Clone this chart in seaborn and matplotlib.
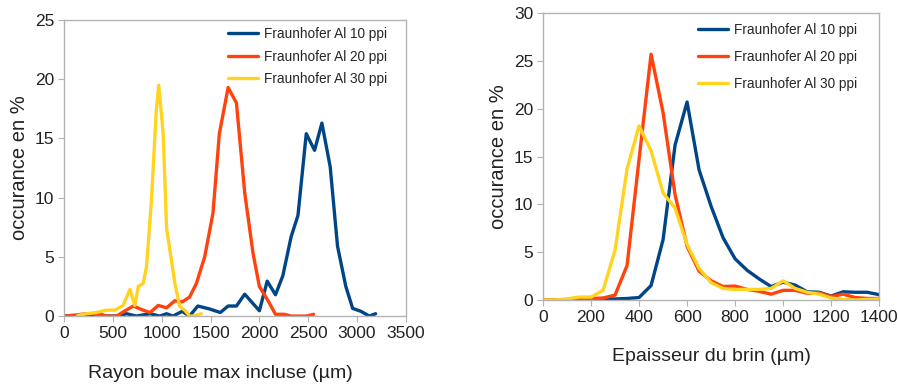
import numpy as np
import pandas as pd
import seaborn as sns
import matplotlib.pyplot as plt

# --- données ---
series_names = ['Fraunhofer Al 10 ppi', 'Fraunhofer Al 20 ppi', 'Fraunhofer Al 30 ppi']
colors = ['#004586', '#ff420e', '#ffd320']

# panneau gauche : rayon boule max incluse
r10_x = [0, 230, 330, 435, 555, 640, 740, 880, 980, 1050, 1115, 1210, 1285, 1370, 1490, 1600,
         1680, 1765, 1850, 2000, 2080, 2165, 2240, 2325, 2395, 2480, 2565, 2640, 2725, 2800,
         2885, 2955, 3040, 3125, 3190]
r10_y = [0, 0, 0.2, 0, 0, 0.2, 0, 0.2, 0, 0.2, 0, 0.4, 0, 0.85, 0.6, 0.3,
         0.85, 0.85, 1.85, 0.45, 2.95, 1.8, 3.4, 6.7, 8.5, 15.4, 14.0, 16.3, 12.6, 5.9,
         2.5, 0.65, 0.4, 0, 0.2]
r20_x = [0, 130, 230, 330, 435, 540, 605, 710, 795, 880, 965, 1050, 1135, 1210, 1285, 1355,
         1440, 1525, 1590, 1680, 1765, 1850, 1935, 2000, 2085, 2165, 2255, 2325, 2410, 2480, 2555]
r20_y = [0, 0.1, 0.2, 0.2, 0, 0, 0.35, 0.85, 0.55, 0.3, 0.9, 0.7, 1.3, 1.2, 1.6, 2.75,
         5.0, 8.7, 15.4, 19.3, 18.0, 10.4, 5.3, 2.5, 1.35, 0.15, 0.15, 0, 0, 0, 0.15]
r30_x = [140, 230, 330, 435, 520, 605, 675, 725, 760, 810, 845, 895, 945, 970, 1015, 1050,
         1100, 1135, 1185, 1235, 1285, 1320, 1405]
r30_y = [0.05, 0.2, 0.3, 0.5, 0.5, 0.9, 2.25, 0.9, 2.5, 2.75, 4.2, 9.8, 17.4, 19.5, 15.4, 7.4,
         4.7, 2.75, 0.8, 0.5, 0, 0, 0.2]

# panneau droit : épaisseur du brin
e_x = list(range(0, 1401, 50))
e10_y = [0, 0, 0, 0, 0.1, 0.1, 0.1, 0.15, 0.25, 1.5, 6.3, 16.2, 20.7, 13.6, 9.8, 6.5,
         4.3, 3.1, 2.2, 1.4, 1.85, 1.55, 0.85, 0.8, 0.4, 0.85, 0.8, 0.8, 0.55]
e20_y = [0, 0, 0.05, 0.1, 0.15, 0.2, 0.5, 3.6, 14.7, 25.7, 19.6, 11.0, 5.6, 3.0, 2.0, 1.4,
         1.45, 1.1, 0.9, 0.6, 1.0, 1.0, 0.7, 0.75, 0.35, 0.6, 0.25, 0.15, 0.15]
e30_y = [0, 0, 0.1, 0.3, 0.3, 1.0, 5.2, 13.7, 18.2, 15.6, 11.2, 9.6, 5.8, 3.3, 1.8, 1.2,
         1.1, 1.1, 1.1, 1.2, 2.0, 1.2, 0.8, 0.6, 0.2, 0.05, 0.0, 0.05, 0.1]


def long_df(xs, ys):
    frames = []
    for name, x, y in zip(series_names, xs, ys):
        frames.append(pd.DataFrame({'x': x, 'y': y, 'serie': name}))
    return pd.concat(frames, ignore_index=True)


df_left = long_df([r10_x, r20_x, r30_x], [r10_y, r20_y, r30_y])
df_right = long_df([e_x, e_x, e_x], [e10_y, e20_y, e30_y])

sns.set_style('white')
plt.rcParams['font.family'] = ['Liberation Sans', 'DejaVu Sans']

fig = plt.figure(figsize=(8.98, 3.85), dpi=100)
ax1 = fig.add_axes([0.0713, 0.179, 0.3807, 0.769])
ax2 = fig.add_axes([0.6047, 0.221, 0.3743, 0.745])


def style_axes(ax, data, xlim, ylim, xticks, yticks, xlabel, leg_anchor, spacing):
    sns.lineplot(data=data, x='x', y='y', hue='serie', hue_order=series_names,
                 palette=colors, sort=False, linewidth=2.4, ax=ax)
    ax.set_xlim(*xlim)
    ax.set_ylim(*ylim)
    ax.set_xticks(xticks)
    ax.set_yticks(yticks)
    ax.tick_params(axis='both', labelsize=12.5, length=4, width=0.8, color='#b3b3b3',
                   direction='out', bottom=True, left=True, pad=3, labelcolor='#222222')
    for sp in ax.spines.values():
        sp.set_color('#b3b3b3')
        sp.set_linewidth(1.0)
    ax.set_xlabel(xlabel, fontsize=14, labelpad=17, color='#222222')
    ax.set_ylabel('occurance en %', fontsize=14.5, labelpad=4, color='#222222')
    ax.legend(loc='upper right', bbox_to_anchor=leg_anchor, frameon=False, fontsize=9.8,
              handlelength=2.2, handletextpad=0.4, labelspacing=spacing)


style_axes(ax1, df_left, (0, 3500), (0, 25), range(0, 3501, 500), range(0, 26, 5),
           'Rayon boule max incluse (µm)', (0.98, 1.017), 0.62)
style_axes(ax2, df_right, (0, 1400), (0, 30), range(0, 1401, 200), range(0, 31, 5),
           'Epaisseur du brin (µm)', (0.97, 1.008), 0.94)

# le titre de l'axe x gauche est légèrement décalé vers la gauche
ax1.xaxis.set_label_coords(0.456, -0.165)

fig.savefig('out.png', dpi=100)
